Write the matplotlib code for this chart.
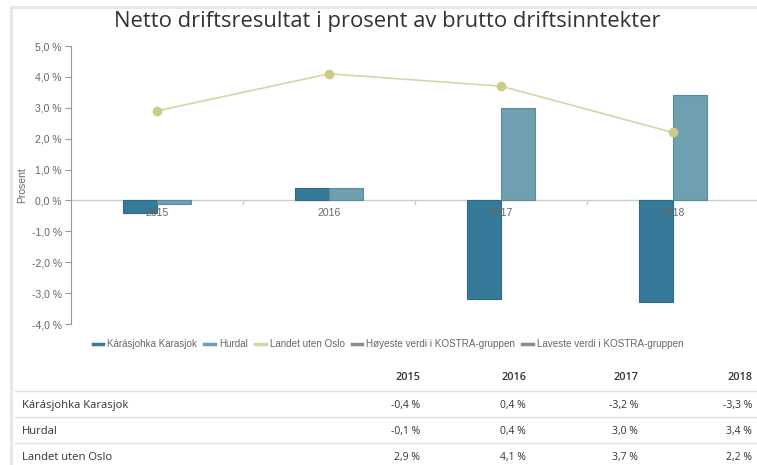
import matplotlib
matplotlib.use("Agg")
import matplotlib.pyplot as plt
from matplotlib.lines import Line2D

years = ["2015", "2016", "2017", "2018"]
karasjok = [-0.4, 0.4, -3.2, -3.3]
hurdal = [-0.1, 0.4, 3.0, 3.4]
landet = [2.9, 4.1, 3.7, 2.2]
yticks = [5, 4, 3, 2, 1, 0, -1, -2, -3, -4]

C_DARK = "#367a99"
C_LIGHT = "#6fa0b2"
C_LINE = "#d6d6a2"
C_MARK = "#cccc88"
C_GRAY = "#8c8c8c"

W, H = 757, 465
plt.rcParams["font.family"] = ["Liberation Sans", "DejaVu Sans"]
fig = plt.figure(figsize=(W / 100, H / 100), dpi=100)


def fx(px):
    return px / W


def fy(py):
    return 1 - py / H


# ramme rundt grafen
fig.add_artist(Line2D([fx(11), fx(11)], [0, fy(7)], color="#e6e6e6", lw=2))
fig.add_artist(Line2D([fx(11), 1], [fy(7), fy(7)], color="#e6e6e6", lw=2))

ax = fig.add_axes([fx(71), fy(324), 688 / W, (324 - 46) / H])
x = list(range(len(years)))
ax.bar([i - 0.1 for i in x], karasjok, width=0.2, color=C_DARK,
       edgecolor="#2c6a86", lw=0.8, zorder=2)
ax.bar([i + 0.1 for i in x], hurdal, width=0.2, color=C_LIGHT,
       edgecolor="#5b8c9e", lw=0.8, zorder=2)
ax.plot(x, landet, color=C_LINE, lw=1.2, zorder=3)
ax.plot(x, landet, "o", color=C_MARK, ms=6, zorder=4)

ax.set_xlim(-0.5, 3.5)
ax.set_ylim(-4, 5)
ax.set_yticks(yticks)
ax.set_yticklabels([f"{v:.1f} %".replace(".", ",") for v in yticks],
                   fontsize=7.5, color="#666666")
ax.tick_params(axis="y", length=4, width=0.8, color="#999999", pad=2.5)
ax.set_xticks([])
for s in ["top", "right", "bottom"]:
    ax.spines[s].set_visible(False)
ax.spines["left"].set_color("#999999")
ax.spines["left"].set_linewidth(0.8)
ax.axhline(0, color="#cccccc", lw=1, zorder=1)
for b in [0.5, 1.5, 2.5]:
    ax.plot([b, b], [0, -0.13], color="#cccccc", lw=1, zorder=1)
for i, yr in enumerate(years):
    ax.text(i, -0.23, yr, ha="center", va="top", fontsize=7.5,
            color="#666666", zorder=5)
fig.text(fx(22), fy(185), "Prosent", rotation=90, ha="center", va="center",
         fontsize=7.5, color="#666666")

fig.text(fx(387), fy(22), "Netto driftsresultat i prosent av brutto driftsinntekter",
         ha="center", va="center", fontsize=15.8, color="#333333",
         family=["Open Sans", "DejaVu Sans"])

# forklaring
handles = [Line2D([], [], color=C_DARK, lw=2.5),
           Line2D([], [], color=C_LIGHT, lw=2.5),
           Line2D([], [], color=C_LINE, lw=2.5),
           Line2D([], [], color=C_GRAY, lw=2.5),
           Line2D([], [], color=C_GRAY, lw=2.5)]
labels = ["Kárásjohka Karasjok", "Hurdal", "Landet uten Oslo",
          "Høyeste verdi i KOSTRA-gruppen", "Laveste verdi i KOSTRA-gruppen"]
fig.legend(handles, labels, loc="center", bbox_to_anchor=(fx(388), fy(344)),
           ncol=5, frameon=False, fontsize=7.1, handlelength=1.1,
           handletextpad=0.4, columnspacing=0.7, labelcolor="#666666")

# tabell
tf = ["Open Sans", "DejaVu Sans"]
col_x = [420, 526, 638, 752]
for cx, yr in zip(col_x, years):
    fig.text(fx(cx), fy(378), yr, ha="right", va="center", fontsize=7.8,
             color="#333333", family=tf, weight="semibold")
rows = [("Kárásjohka Karasjok", karasjok), ("Hurdal", hurdal),
        ("Landet uten Oslo", landet)]
row_y = [405, 431, 457]
for ly in [391, 417, 443]:
    fig.add_artist(Line2D([fx(15), 1], [fy(ly), fy(ly)], color="#e0e0e0", lw=1))
for (name, vals), ry in zip(rows, row_y):
    fig.text(fx(22), fy(ry), name, ha="left", va="center", fontsize=8.1,
             color="#333333", family=tf)
    for cx, v in zip(col_x, vals):
        fig.text(fx(cx), fy(ry), f"{v:.1f} %".replace(".", ","), ha="right",
                 va="center", fontsize=7.5, color="#333333", family=tf)

fig.savefig("out.png", dpi=100)
